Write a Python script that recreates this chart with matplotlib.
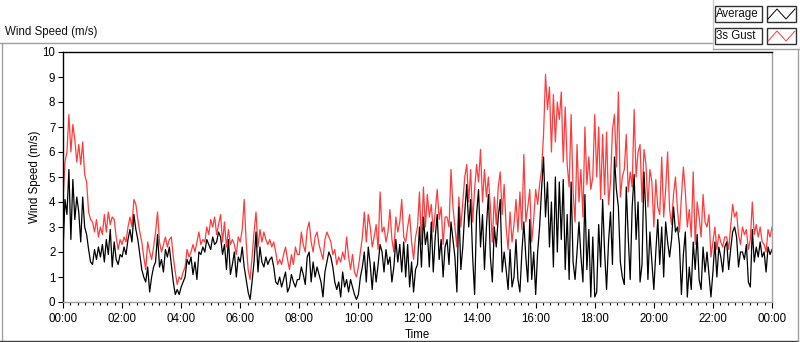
import numpy as np
import matplotlib
matplotlib.use("Agg")
import matplotlib.pyplot as plt
from matplotlib.ticker import FixedLocator, FuncFormatter, MultipleLocator
from matplotlib.patches import Rectangle

plt.rcParams['font.family'] = ['Liberation Sans', 'DejaVu Sans']

# ---- data: 4-minute samples, one row per hour (15 values), plus 24:00 ----
gust = [
    4.0, 5.6, 6.0, 7.5, 6.0, 7.1, 6.5, 5.6, 6.3, 5.5, 6.4, 5.1, 4.8, 3.6, 3.3,
    3.2, 2.8, 3.3, 2.6, 3.0, 2.7, 3.5, 2.8, 3.6, 3.1, 3.4, 3.3, 2.6, 2.1, 2.5,
    2.3, 2.6, 2.4, 3.0, 3.4, 3.0, 4.1, 3.9, 3.3, 2.8, 2.4, 1.8, 1.3, 2.4, 2.0,
    1.7, 2.2, 2.8, 3.6, 2.4, 2.0, 2.3, 2.6, 2.2, 2.5, 2.6, 1.8, 1.2, 0.7, 1.0,
    0.9, 1.2, 1.4, 2.1, 1.8, 2.0, 2.3, 2.0, 2.4, 2.8, 2.3, 2.5, 2.4, 3.0, 2.7,
    3.3, 3.0, 3.4, 2.7, 3.1, 3.5, 2.4, 3.2, 2.2, 2.9, 2.3, 2.5, 2.3, 1.9, 2.6,
    2.4, 2.9, 4.1, 2.4, 1.3, 0.9, 1.8, 2.8, 3.6, 2.2, 2.9, 2.4, 2.8, 2.5, 2.3,
    2.5, 2.2, 2.4, 2.0, 1.5, 1.7, 1.5, 1.9, 2.2, 1.7, 1.3, 1.9, 1.5, 2.2, 1.9,
    1.9, 2.8, 2.3, 2.0, 2.9, 3.2, 2.4, 2.0, 2.6, 2.8, 2.3, 2.0, 1.7, 2.5, 2.8,
    2.6, 2.4, 1.9, 2.1, 1.5, 1.8, 1.6, 2.0, 1.7, 2.6, 1.8, 1.3, 1.9, 1.2, 1.0,
    1.4, 2.0, 2.6, 3.6, 2.4, 3.5, 3.0, 2.2, 2.6, 3.1, 2.1, 4.4, 2.8, 3.0, 2.4,
    2.8, 3.7, 2.5, 2.0, 3.4, 2.8, 3.2, 4.1, 2.6, 2.4, 3.0, 3.5, 2.4, 1.7, 2.6,
    3.0, 4.4, 2.3, 4.6, 3.0, 4.3, 3.4, 3.9, 2.8, 3.6, 4.5, 3.3, 3.8, 2.3, 3.4,
    3.4, 3.0, 5.3, 3.8, 3.0, 2.2, 4.2, 3.0, 4.0, 5.0, 5.5, 4.0, 5.3, 3.2, 4.5,
    5.5, 4.8, 6.1, 4.0, 5.3, 4.2, 5.0, 3.8, 2.4, 4.2, 3.1, 4.6, 5.2, 3.5, 4.7,
    3.0, 2.1, 3.6, 2.4, 3.1, 4.1, 2.8, 4.4, 2.9, 5.9, 3.2, 3.8, 4.5, 2.4, 3.3,
    4.5, 3.9, 4.7, 5.3, 6.7, 9.1, 7.7, 8.6, 6.0, 8.3, 6.4, 8.0, 7.3, 8.4, 5.6,
    7.8, 5.5, 4.6, 7.5, 4.4, 3.2, 6.3, 4.0, 5.3, 3.4, 7.0, 4.7, 5.8, 4.5, 5.0,
    7.5, 5.0, 7.0, 4.1, 6.7, 4.3, 6.8, 3.9, 4.8, 6.9, 7.5, 5.4, 8.4, 4.2, 5.0,
    5.3, 6.7, 4.4, 5.2, 4.6, 7.7, 5.0, 6.0, 6.3, 4.0, 6.1, 5.5, 3.8, 5.3, 4.8,
    3.0, 4.9, 3.8, 3.5, 5.8, 3.4, 4.5, 6.0, 3.7, 3.1, 4.3, 5.0, 3.7, 2.8, 4.2,
    5.4, 4.4, 3.0, 3.7, 2.6, 5.2, 2.3, 4.0, 3.4, 2.6, 4.3, 3.2, 3.0, 3.5, 1.8,
    2.4, 3.0, 2.1, 2.7, 2.4, 2.2, 2.6, 2.6, 2.1, 3.0, 3.9, 3.4, 3.6, 2.7, 2.3,
    3.0, 2.7, 2.9, 2.1, 2.5, 4.0, 2.7, 3.1, 2.6, 3.0, 2.4, 2.3, 2.0, 2.9, 2.6,
    3.0,
]
average = [
    2.0, 4.1, 3.5, 5.3, 2.5, 4.9, 3.3, 4.2, 3.6, 2.4, 4.2, 3.0, 2.7, 2.1, 1.6,
    1.5, 2.1, 1.7, 2.2, 1.8, 2.3, 1.6, 2.5, 1.9, 2.9, 1.4, 2.4, 1.7, 1.5, 1.9,
    1.8, 2.2, 1.9, 2.5, 2.9, 2.4, 3.5, 2.9, 2.5, 1.9, 1.3, 1.0, 0.8, 1.4, 0.4,
    1.0, 1.4, 1.6, 2.7, 1.4, 1.7, 1.2, 2.1, 1.8, 2.2, 1.5, 0.8, 0.3, 0.5, 0.3,
    0.6, 0.8, 1.0, 1.7, 1.5, 1.8, 1.1, 1.6, 0.9, 2.0, 1.9, 2.2, 2.0, 2.5, 2.3,
    2.1, 2.6, 2.3, 2.4, 2.8, 2.6, 1.9, 2.3, 1.3, 2.5, 1.1, 1.5, 2.0, 1.0, 1.8,
    1.6, 2.2, 1.4, 0.9, 0.4, 0.1, 0.8, 1.6, 2.8, 1.2, 2.2, 1.6, 1.4, 1.8, 1.5,
    1.7, 1.8, 1.4, 0.8, 0.7, 1.0, 0.6, 0.9, 1.2, 0.4, 0.6, 1.1, 0.8, 0.6, 0.9,
    0.9, 1.4, 1.1, 0.7, 1.8, 2.0, 0.8, 1.6, 1.0, 1.4, 1.1, 0.8, 0.2, 1.2, 1.6,
    2.0, 1.8, 1.4, 0.8, 0.5, 0.8, 0.2, 1.2, 0.6, 0.9, 0.4, 0.9, 0.6, 0.3, 0.1,
    0.3, 1.0, 1.4, 2.0, 0.8, 2.2, 1.5, 0.5, 1.6, 0.8, 1.5, 2.3, 2.0, 1.2, 2.1,
    1.5, 1.8, 0.8, 1.4, 2.5, 1.6, 2.3, 1.2, 2.4, 1.0, 2.3, 0.6, 1.6, 0.4, 1.3,
    1.5, 3.0, 1.4, 3.4, 2.3, 2.8, 1.4, 3.2, 1.2, 2.6, 3.5, 1.7, 2.5, 1.0, 2.2,
    2.5, 1.5, 3.2, 2.5, 1.8, 0.4, 3.8, 1.3, 2.2, 3.6, 4.7, 3.0, 4.1, 1.8, 0.3,
    3.5, 4.5, 2.2, 3.5, 1.3, 3.0, 4.3, 1.8, 0.8, 3.0, 2.2, 3.4, 4.1, 1.2, 2.0,
    1.3, 0.5, 2.1, 0.6, 1.0, 2.5, 0.9, 0.4, 2.0, 3.2, 1.8, 0.8, 3.3, 0.9, 2.0,
    0.3, 2.0, 3.0, 4.5, 5.8, 3.4, 4.8, 2.2, 4.0, 1.4, 5.0, 2.0, 4.8, 2.5, 4.9,
    1.3, 3.5, 0.9, 4.8, 1.6, 0.9, 2.0, 3.2, 1.8, 0.8, 4.3, 1.3, 2.9, 0.2, 2.6,
    0.2, 0.4, 3.1, 1.4, 4.1, 2.0, 0.5, 2.4, 3.6, 1.5, 5.8, 4.5, 3.8, 1.6, 1.0,
    0.7, 4.6, 2.6, 0.9, 3.8, 5.1, 2.5, 4.0, 0.8, 1.5, 5.2, 3.4, 0.9, 2.8, 1.6,
    0.5, 2.0, 3.3, 1.5, 3.0, 1.0, 3.2, 2.4, 1.8, 2.5, 3.8, 2.8, 3.0, 2.3, 0.3,
    1.9, 2.8, 0.2, 1.4, 0.5, 2.4, 1.3, 2.7, 0.9, 0.5, 2.2, 1.2, 2.0, 1.1, 0.2,
    1.2, 2.4, 1.0, 2.2, 1.8, 1.2, 2.2, 2.4, 1.3, 2.1, 2.8, 3.0, 2.6, 1.4, 2.0,
    2.0, 1.7, 2.3, 0.8, 0.6, 2.9, 1.6, 2.2, 1.8, 2.4, 1.8, 2.0, 1.2, 2.2, 1.9,
    2.1,
]
hours = np.arange(len(gust)) / 15.0   # sample times in hours
x_ticks = [0, 2, 4, 6, 8, 10, 12, 14, 16, 18, 20, 22, 24]
y_ticks = [0, 1, 2, 3, 4, 5, 6, 7, 8, 9, 10]
series_names = ["Average", "3s Gust"]

W, H = 800, 342
fig = plt.figure(figsize=(W / 100, H / 100), dpi=100)
fig.patch.set_facecolor("white")

# overlay for panel decorations in pixel coords
ov = fig.add_axes([0, 0, 1, 1], zorder=0)
ov.set_xlim(0, W)
ov.set_ylim(H, 0)
ov.axis("off")
gray = "#a0a0a0"
ov.plot([0, 712], [42.5, 42.5], color=gray, lw=1)
ov.plot([1.5, 1.5], [42.5, 341], color=gray, lw=1)
ov.plot([0, 798], [340.5, 340.5], color="#404040", lw=1)
ov.plot([712.5, 712.5], [0, 48.5], color="#c8c8c8", lw=1)
ov.plot([712.5, 800], [48.5, 48.5], color=gray, lw=1)
ov.plot([797.5, 797.5], [48.5, 341], color=gray, lw=1)
ov.text(5, 32.5, "Wind Speed (m/s)", fontsize=8.3, va="center", ha="left", color="#111")

# legend
legend_colors = ["black", "#ff3b3b"]
for i, (name, c) in enumerate(zip(series_names, legend_colors)):
    y0 = 5 + i * 22
    ov.add_patch(Rectangle((714.5, y0 + 0.5), 47, 16, facecolor="white",
                           edgecolor="#303030", lw=1))
    ov.text(716, y0 + 9, name, fontsize=8.3, va="center", ha="left", color="#111")
    ov.add_patch(Rectangle((766.5, y0 + 0.5), 29, 16, facecolor="white",
                           edgecolor="#303030", lw=1))
    ov.plot([768, 777, 786, 795], [y0 + 14, y0 + 4, y0 + 14, y0 + 4], color=c, lw=0.7)

# main plot
ax = fig.add_axes([63 / W, 40 / H, 709 / W, 250 / H], zorder=1)
ax.plot(hours, gust, color="#ff3b3b", lw=0.9)
ax.plot(hours, average, color="black", lw=0.9)
ax.set_xlim(0, 24)
ax.set_ylim(0, 10)
ax.xaxis.set_major_locator(FixedLocator(x_ticks))
ax.xaxis.set_minor_locator(MultipleLocator(0.25))
ax.xaxis.set_major_formatter(FuncFormatter(lambda v, p: "%02d:00" % (int(round(v)) % 24)))
ax.yaxis.set_major_locator(FixedLocator(y_ticks))
ax.tick_params(axis="x", which="major", length=4, width=0.8, direction="out", pad=4,
               labelsize=8.3, colors="black")
ax.tick_params(axis="x", which="minor", length=2.5, width=0.8, direction="out")
ax.tick_params(axis="y", which="major", length=3.5, width=0.8, direction="out", pad=2,
               labelsize=8.3, colors="black")
for s in ["left", "top"]:
    ax.spines[s].set_color("black")
    ax.spines[s].set_linewidth(1)
for s in ["right", "bottom"]:
    ax.spines[s].set_color(gray)
    ax.spines[s].set_linewidth(1)
ax.set_xlabel("Time", fontsize=8.3, labelpad=3)
ax.set_ylabel("Wind Speed (m/s)", fontsize=8.3, labelpad=1)

fig.savefig("out.png", dpi=100)
